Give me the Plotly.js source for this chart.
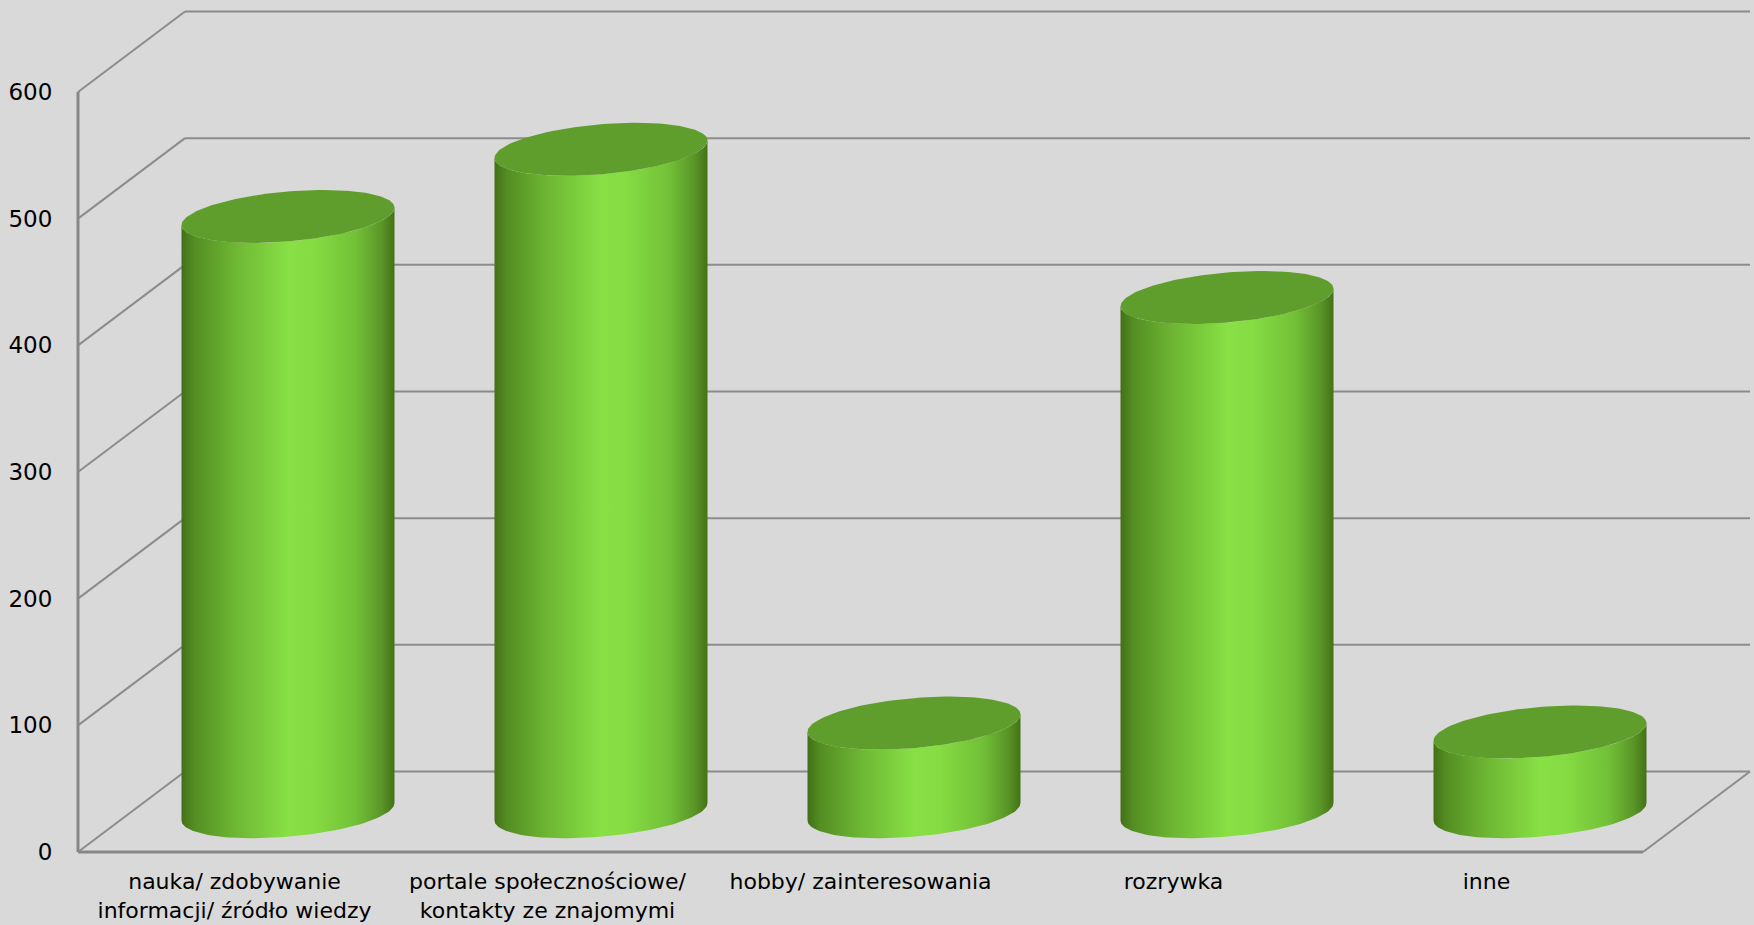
<!DOCTYPE html>
<html><head><meta charset="utf-8">
<script src="https://cdn.plot.ly/plotly-3.0.1.min.js"></script>
<style>html,body{margin:0;padding:0;background:#d9d9d9;}</style>
</head><body><div id="chart" style="width:1754px;height:925px;"></div>
<script>
const categories = [
  'nauka/ zdobywanie<br>informacji/ źródło wiedzy',
  'portale społecznościowe/<br>kontakty ze znajomymi',
  'hobby/ zainteresowania',
  'rozrywka',
  'inne'
];
const values = [470, 523, 70, 406, 63];
const tickValues = [0, 100, 200, 300, 400, 500, 600];
const tickLabels = ['0', '100', '200', '300', '400', '500', '600'];

// pixel geometry of the 3D box (layout, not data)
const W = 1754, H = 925;
const plotL = 60, plotR = 1754, plotT = 4, plotB = 866;
const frontL = 78, frontR = 1643, front0 = 852, frontTop = 92;
const depthDX = 107, depthDY = 80.5;
const wallRightPx = 1750;
const cylHalfW = 106.5, cylQ = 26.5;

const n = categories.length;
const topVal = tickValues[tickValues.length - 1];
const unitPx = (frontR - frontL) / n;
const pxPerVal = (front0 - frontTop) / topVal;
const xmin = -0.5 - (frontL - plotL) / unitPx;
const xmax = xmin + (plotR - plotL) / unitPx;
const ymin = -(plotB - front0) / pxPerVal;
const ymax = ymin + (plotB - plotT) / pxPerVal;
const DX = depthDX / unitPx, DY = depthDY / pxPerVal;
const xLeft = -0.5, xRight = n - 0.5;
const xWallRight = -0.5 + (wallRightPx - frontL) / unitPx;

const P = cylQ * depthDX / depthDY;
const R = Math.sqrt(cylHalfW * cylHalfW - P * P);
const a = Math.atan2(P, R);

function pt(cx, cy, t) {
  return [cx + (R * Math.cos(t) + P * Math.sin(t)) / unitPx,
          cy + cylQ * Math.sin(t) / pxPerVal];
}

const gridColor = '#8c8c8c';
const shapes = [];
tickValues.forEach(v => {
  shapes.push({type: 'line', xref: 'x', yref: 'y', layer: 'below',
    x0: xLeft, y0: v, x1: xLeft + DX, y1: v + DY,
    line: {color: gridColor, width: 2}});
  shapes.push({type: 'line', xref: 'x', yref: 'y', layer: 'below',
    x0: xLeft + DX, y0: v + DY, x1: xWallRight, y1: v + DY,
    line: {color: gridColor, width: 2}});
});
// front axis line and floor
shapes.push({type: 'line', xref: 'x', yref: 'y', layer: 'below',
  x0: xLeft, y0: 0, x1: xLeft, y1: topVal, line: {color: '#878787', width: 3}});
shapes.push({type: 'line', xref: 'x', yref: 'y', layer: 'below',
  x0: xLeft, y0: 0, x1: xRight, y1: 0, line: {color: '#878787', width: 3}});
shapes.push({type: 'line', xref: 'x', yref: 'y', layer: 'below',
  x0: xRight, y0: 0, x1: xRight + DX, y1: DY, line: {color: gridColor, width: 2}});

const sideScale = [
  [0, '#437017'], [0.06, '#548e23'], [0.25, '#6db633'], [0.5, '#88e045'],
  [0.62, '#86dc43'], [0.82, '#72c037'], [0.94, '#5a9527'], [1, '#447217']
];

const traces = [];
values.forEach((v, i) => {
  const cx = i + DX / 2;
  const cy0 = DY / 2, cy1 = DY / 2 + v;
  const N = 80;
  const bx = [], by = [];
  for (let k = 0; k <= N; k++) {
    const t = Math.PI + a + Math.PI * k / N;
    const p = pt(cx, cy0, t); bx.push(p[0]); by.push(p[1]);
  }
  for (let k = 0; k <= N; k++) {
    const t = 2 * Math.PI + a - Math.PI * k / N;
    const p = pt(cx, cy1, t); bx.push(p[0]); by.push(p[1]);
  }
  bx.push(bx[0]); by.push(by[0]);
  traces.push({type: 'scatter', mode: 'lines', x: bx, y: by, fill: 'toself',
    line: {width: 0, color: 'rgba(0,0,0,0)'},
    fillgradient: {type: 'horizontal', colorscale: sideScale},
    hoverinfo: 'skip', showlegend: false});
  const tx = [], ty = [];
  for (let k = 0; k <= 2 * N; k++) {
    const t = 2 * Math.PI * k / (2 * N);
    const p = pt(cx, cy1, t); tx.push(p[0]); ty.push(p[1]);
  }
  traces.push({type: 'scatter', mode: 'lines', x: tx, y: ty, fill: 'toself',
    fillcolor: '#5f9e2c', line: {width: 0, color: 'rgba(0,0,0,0)'},
    hoverinfo: 'skip', showlegend: false});
});

const layout = {
  width: W, height: H,
  paper_bgcolor: '#d9d9d9', plot_bgcolor: '#d9d9d9',
  margin: {l: plotL, r: W - plotR, t: plotT, b: H - plotB, pad: 0},
  font: {family: 'DejaVu Sans, sans-serif', color: '#000'},
  showlegend: false,
  hovermode: false,
  xaxis: {range: [xmin, xmax], tickmode: 'array',
    tickvals: categories.map((c, i) => i), ticktext: categories,
    showgrid: false, zeroline: false, showline: false,
    ticks: '', ticklen: 0,
    tickfont: {size: 22, color: '#000'}, fixedrange: true},
  yaxis: {range: [ymin, ymax], tickmode: 'array',
    tickvals: tickValues, ticktext: tickLabels,
    showgrid: false, zeroline: false, showline: false,
    ticks: 'outside', ticklen: 2, tickcolor: 'rgba(0,0,0,0)',
    tickfont: {size: 23, color: '#000'}, fixedrange: true},
  shapes: shapes
};

Plotly.newPlot('chart', traces, layout, {displayModeBar: false, staticPlot: true});
</script>
</body></html>
